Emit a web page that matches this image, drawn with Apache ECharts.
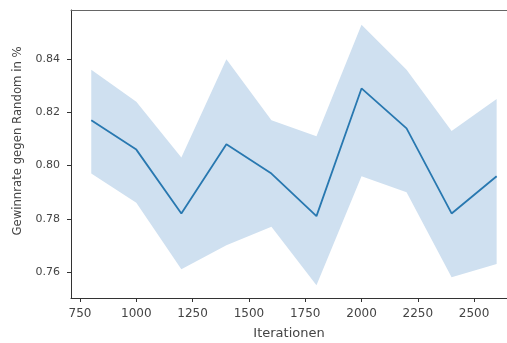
<!DOCTYPE html>
<html>
<head>
<meta charset="utf-8">
<script src="https://cdn.jsdelivr.net/npm/echarts@6/dist/echarts.min.js"></script>
<style>html,body{margin:0;padding:0;background:#fff}#c{width:507px;height:343px}</style>
</head>
<body>
<div id="c"></div>
<script>
const iterations = [800, 1000, 1200, 1400, 1600, 1800, 2000, 2200, 2400, 2600];
const meanRate   = [0.817, 0.806, 0.782, 0.808, 0.797, 0.781, 0.829, 0.814, 0.782, 0.796];
const lowerRate  = [0.797, 0.786, 0.761, 0.770, 0.777, 0.755, 0.796, 0.790, 0.758, 0.763];
const upperRate  = [0.836, 0.824, 0.803, 0.840, 0.817, 0.811, 0.853, 0.836, 0.813, 0.825];
const xTicks = [750, 1000, 1250, 1500, 1750, 2000, 2250, 2500];
const yTicks = [0.76, 0.78, 0.80, 0.82, 0.84];

const font = 'DejaVu Sans';
const chart = echarts.init(document.getElementById('c'));
const meanPts = iterations.map((x, i) => [x, meanRate[i]]);
const bandData = iterations.map((x, i) => [x, lowerRate[i], upperRate[i]]);

chart.setOption({
  animation: false,
  backgroundColor: '#fff',
  grid: { left: 71, right: 0, top: 10, bottom: 45, outerBoundsMode: 'none', containLabel: false },
  xAxis: [{
    type: 'value', min: 710, max: 2646,
    name: 'Iterationen', nameLocation: 'middle', nameGap: 29,
    nameTextStyle: { fontFamily: font, fontSize: 13, color: '#444' },
    axisLine: { show: true, onZero: false, lineStyle: { color: '#333', width: 1 } },
    axisTick: { show: true, length: 4, customValues: xTicks, lineStyle: { color: '#333' } },
    axisLabel: { customValues: xTicks, margin: 10, fontFamily: font, fontSize: 12, color: '#444',
      formatter: v => String(v) },
    splitLine: { show: false }
  }, {
    type: 'value', min: 710, max: 2646, position: 'top',
    axisLine: { show: true, onZero: false, lineStyle: { color: '#666', width: 1 } },
    axisTick: { show: false }, axisLabel: { show: false }, splitLine: { show: false }
  }],
  yAxis: {
    type: 'value', min: 0.7502, max: 0.8585,
    axisLine: { show: true, onZero: false, lineStyle: { color: '#333', width: 1 } },
    axisTick: { show: true, length: 4, customValues: yTicks, lineStyle: { color: '#333' } },
    axisLabel: { customValues: yTicks, margin: 11, fontFamily: font, fontSize: 11, color: '#444',
      formatter: v => v.toFixed(2) },
    splitLine: { show: false }
  },
  graphic: [{
    type: 'text', x: 18, y: 141, rotation: Math.PI / 2,
    style: { text: 'Gewinnrate gegen Random in %', fontFamily: font, fontSize: 11.7, fill: '#444',
      align: 'center', verticalAlign: 'middle' }
  }],
  series: [
    {
      type: 'custom', data: bandData, silent: true, z: 1,
      renderItem: function (params, api) {
        if (params.dataIndex !== 0) return null;
        const upper = bandData.map(d => api.coord([d[0], d[2]]));
        const lower = bandData.map(d => api.coord([d[0], d[1]])).reverse();
        return {
          type: 'polygon',
          shape: { points: upper.concat(lower) },
          style: { fill: '#cfe0f0', stroke: null }
        };
      },
      encode: { x: 0, y: [1, 2] }
    },
    { type: 'line', data: meanPts, symbol: 'none', lineStyle: { color: '#2878b0', width: 1.8 }, z: 5 }
  ]
});
</script>
</body>
</html>
